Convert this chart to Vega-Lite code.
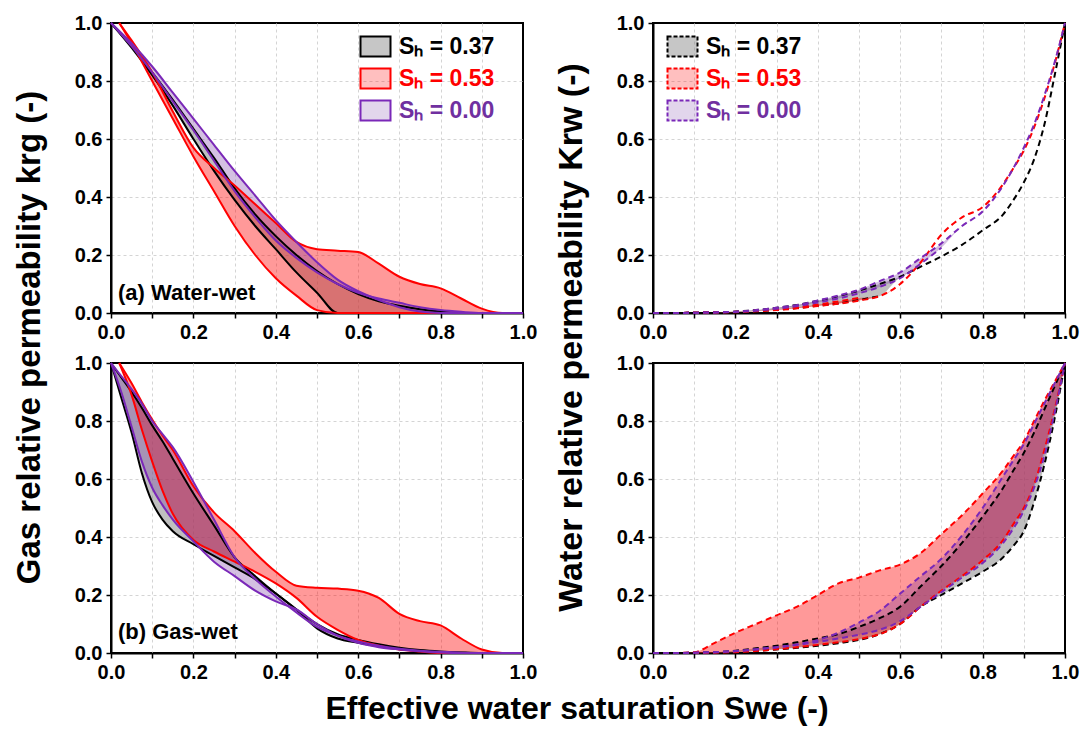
{
  "$schema": "https://vega.github.io/schema/vega-lite/v6.json",
  "background": "white",
  "padding": {"top": 12, "left": 14, "right": 6, "bottom": 4},
  "config": {
    "font": "Liberation Sans",
    "view": {"stroke": "#000000", "strokeWidth": 2},
    "axis": {"labelFontSize": 20, "labelFontWeight": "bold", "labelColor": "#000000", "labelFlush": false, "labelPadding": 4, "domainColor": "#000000", "domainWidth": 2, "tickColor": "#000000", "tickWidth": 1.5, "tickSize": 5, "grid": true, "gridColor": "#d4d4d4", "gridDash": [3, 3], "gridWidth": 1, "title": null},
    "title": {"font": "Liberation Sans", "fontWeight": "bold", "fontSize": 34, "color": "#000000"}
  },
  "datasets": {
    "a": [
      {"sh": "0.37", "x": 0, "y1": 1, "y2": 1}, {"sh": "0.37", "x": 0.05, "y1": 0.92, "y2": 0.915}, {"sh": "0.37", "x": 0.1, "y1": 0.83, "y2": 0.82}, {"sh": "0.37", "x": 0.15, "y1": 0.735, "y2": 0.715}, {"sh": "0.37", "x": 0.2, "y1": 0.635, "y2": 0.6}, {"sh": "0.37", "x": 0.25, "y1": 0.535, "y2": 0.49}, {"sh": "0.37", "x": 0.3, "y1": 0.43, "y2": 0.39}, {"sh": "0.37", "x": 0.35, "y1": 0.34, "y2": 0.3}, {"sh": "0.37", "x": 0.4, "y1": 0.265, "y2": 0.22}, {"sh": "0.37", "x": 0.45, "y1": 0.2, "y2": 0.14}, {"sh": "0.37", "x": 0.5, "y1": 0.145, "y2": 0.07}, {"sh": "0.37", "x": 0.55, "y1": 0.1, "y2": 0}, {"sh": "0.37", "x": 0.6, "y1": 0.065, "y2": 0}, {"sh": "0.37", "x": 0.65, "y1": 0.04, "y2": 0}, {"sh": "0.37", "x": 0.7, "y1": 0.025, "y2": 0}, {"sh": "0.37", "x": 0.75, "y1": 0.013, "y2": 0}, {"sh": "0.37", "x": 0.8, "y1": 0.005, "y2": 0}, {"sh": "0.37", "x": 0.85, "y1": 0, "y2": 0}, {"sh": "0.37", "x": 0.9, "y1": 0, "y2": 0}, {"sh": "0.37", "x": 1, "y1": 0, "y2": 0},
      {"sh": "0.53", "x": 0.02, "y1": 1, "y2": 1}, {"sh": "0.53", "x": 0.05, "y1": 0.94, "y2": 0.93}, {"sh": "0.53", "x": 0.1, "y1": 0.83, "y2": 0.8}, {"sh": "0.53", "x": 0.15, "y1": 0.695, "y2": 0.67}, {"sh": "0.53", "x": 0.2, "y1": 0.57, "y2": 0.54}, {"sh": "0.53", "x": 0.25, "y1": 0.5, "y2": 0.42}, {"sh": "0.53", "x": 0.3, "y1": 0.44, "y2": 0.3}, {"sh": "0.53", "x": 0.35, "y1": 0.375, "y2": 0.2}, {"sh": "0.53", "x": 0.4, "y1": 0.31, "y2": 0.12}, {"sh": "0.53", "x": 0.45, "y1": 0.245, "y2": 0.06}, {"sh": "0.53", "x": 0.5, "y1": 0.22, "y2": 0.01}, {"sh": "0.53", "x": 0.55, "y1": 0.215, "y2": 0}, {"sh": "0.53", "x": 0.6, "y1": 0.21, "y2": 0}, {"sh": "0.53", "x": 0.65, "y1": 0.17, "y2": 0}, {"sh": "0.53", "x": 0.7, "y1": 0.125, "y2": 0}, {"sh": "0.53", "x": 0.75, "y1": 0.1, "y2": 0}, {"sh": "0.53", "x": 0.8, "y1": 0.085, "y2": 0}, {"sh": "0.53", "x": 0.85, "y1": 0.05, "y2": 0}, {"sh": "0.53", "x": 0.9, "y1": 0.015, "y2": 0}, {"sh": "0.53", "x": 0.95, "y1": 0, "y2": 0}, {"sh": "0.53", "x": 1, "y1": 0, "y2": 0},
      {"sh": "0.00", "x": 0, "y1": 1, "y2": 1}, {"sh": "0.00", "x": 0.05, "y1": 0.93, "y2": 0.92}, {"sh": "0.00", "x": 0.1, "y1": 0.85, "y2": 0.83}, {"sh": "0.00", "x": 0.15, "y1": 0.76, "y2": 0.73}, {"sh": "0.00", "x": 0.2, "y1": 0.67, "y2": 0.63}, {"sh": "0.00", "x": 0.25, "y1": 0.58, "y2": 0.525}, {"sh": "0.00", "x": 0.3, "y1": 0.49, "y2": 0.42}, {"sh": "0.00", "x": 0.35, "y1": 0.405, "y2": 0.33}, {"sh": "0.00", "x": 0.4, "y1": 0.32, "y2": 0.25}, {"sh": "0.00", "x": 0.45, "y1": 0.245, "y2": 0.19}, {"sh": "0.00", "x": 0.5, "y1": 0.175, "y2": 0.14}, {"sh": "0.00", "x": 0.55, "y1": 0.115, "y2": 0.1}, {"sh": "0.00", "x": 0.6, "y1": 0.075, "y2": 0.07}, {"sh": "0.00", "x": 0.65, "y1": 0.045, "y2": 0.05}, {"sh": "0.00", "x": 0.7, "y1": 0.02, "y2": 0.035}, {"sh": "0.00", "x": 0.75, "y1": 0.005, "y2": 0.02}, {"sh": "0.00", "x": 0.8, "y1": 0, "y2": 0.01}, {"sh": "0.00", "x": 0.85, "y1": 0, "y2": 0.004}, {"sh": "0.00", "x": 0.9, "y1": 0, "y2": 0}, {"sh": "0.00", "x": 1, "y1": 0, "y2": 0}
    ],
    "b": [
      {"sh": "0.37", "x": 0, "y1": 1, "y2": 1}, {"sh": "0.37", "x": 0.025, "y1": 0.95, "y2": 0.88}, {"sh": "0.37", "x": 0.05, "y1": 0.9, "y2": 0.76}, {"sh": "0.37", "x": 0.075, "y1": 0.845, "y2": 0.62}, {"sh": "0.37", "x": 0.1, "y1": 0.785, "y2": 0.52}, {"sh": "0.37", "x": 0.125, "y1": 0.73, "y2": 0.46}, {"sh": "0.37", "x": 0.15, "y1": 0.67, "y2": 0.42}, {"sh": "0.37", "x": 0.2, "y1": 0.55, "y2": 0.375}, {"sh": "0.37", "x": 0.25, "y1": 0.44, "y2": 0.335}, {"sh": "0.37", "x": 0.3, "y1": 0.33, "y2": 0.295}, {"sh": "0.37", "x": 0.35, "y1": 0.265, "y2": 0.255}, {"sh": "0.37", "x": 0.4, "y1": 0.205, "y2": 0.205}, {"sh": "0.37", "x": 0.45, "y1": 0.15, "y2": 0.15}, {"sh": "0.37", "x": 0.5, "y1": 0.1, "y2": 0.085}, {"sh": "0.37", "x": 0.55, "y1": 0.065, "y2": 0.05}, {"sh": "0.37", "x": 0.6, "y1": 0.045, "y2": 0.035}, {"sh": "0.37", "x": 0.65, "y1": 0.03, "y2": 0.022}, {"sh": "0.37", "x": 0.7, "y1": 0.018, "y2": 0.013}, {"sh": "0.37", "x": 0.75, "y1": 0.01, "y2": 0.007}, {"sh": "0.37", "x": 0.8, "y1": 0.005, "y2": 0.003}, {"sh": "0.37", "x": 0.85, "y1": 0.002, "y2": 0.001}, {"sh": "0.37", "x": 0.9, "y1": 0, "y2": 0}, {"sh": "0.37", "x": 1, "y1": 0, "y2": 0},
      {"sh": "0.53", "x": 0.02, "y1": 1, "y2": 1}, {"sh": "0.53", "x": 0.05, "y1": 0.93, "y2": 0.89}, {"sh": "0.53", "x": 0.075, "y1": 0.865, "y2": 0.77}, {"sh": "0.53", "x": 0.1, "y1": 0.805, "y2": 0.66}, {"sh": "0.53", "x": 0.125, "y1": 0.75, "y2": 0.56}, {"sh": "0.53", "x": 0.15, "y1": 0.7, "y2": 0.48}, {"sh": "0.53", "x": 0.2, "y1": 0.575, "y2": 0.39}, {"sh": "0.53", "x": 0.25, "y1": 0.485, "y2": 0.35}, {"sh": "0.53", "x": 0.3, "y1": 0.42, "y2": 0.315}, {"sh": "0.53", "x": 0.35, "y1": 0.345, "y2": 0.28}, {"sh": "0.53", "x": 0.4, "y1": 0.28, "y2": 0.24}, {"sh": "0.53", "x": 0.45, "y1": 0.232, "y2": 0.19}, {"sh": "0.53", "x": 0.5, "y1": 0.225, "y2": 0.125}, {"sh": "0.53", "x": 0.55, "y1": 0.222, "y2": 0.08}, {"sh": "0.53", "x": 0.6, "y1": 0.215, "y2": 0.045}, {"sh": "0.53", "x": 0.65, "y1": 0.19, "y2": 0.025}, {"sh": "0.53", "x": 0.7, "y1": 0.135, "y2": 0.012}, {"sh": "0.53", "x": 0.75, "y1": 0.11, "y2": 0.005}, {"sh": "0.53", "x": 0.8, "y1": 0.095, "y2": 0}, {"sh": "0.53", "x": 0.85, "y1": 0.05, "y2": 0}, {"sh": "0.53", "x": 0.9, "y1": 0.012, "y2": 0}, {"sh": "0.53", "x": 0.95, "y1": 0, "y2": 0}, {"sh": "0.53", "x": 1, "y1": 0, "y2": 0},
      {"sh": "0.00", "x": 0, "y1": 1, "y2": 1}, {"sh": "0.00", "x": 0.025, "y1": 0.955, "y2": 0.9}, {"sh": "0.00", "x": 0.05, "y1": 0.91, "y2": 0.78}, {"sh": "0.00", "x": 0.075, "y1": 0.86, "y2": 0.66}, {"sh": "0.00", "x": 0.1, "y1": 0.8, "y2": 0.57}, {"sh": "0.00", "x": 0.125, "y1": 0.755, "y2": 0.51}, {"sh": "0.00", "x": 0.15, "y1": 0.71, "y2": 0.46}, {"sh": "0.00", "x": 0.2, "y1": 0.59, "y2": 0.385}, {"sh": "0.00", "x": 0.25, "y1": 0.46, "y2": 0.315}, {"sh": "0.00", "x": 0.3, "y1": 0.33, "y2": 0.265}, {"sh": "0.00", "x": 0.35, "y1": 0.255, "y2": 0.215}, {"sh": "0.00", "x": 0.4, "y1": 0.195, "y2": 0.178}, {"sh": "0.00", "x": 0.45, "y1": 0.14, "y2": 0.15}, {"sh": "0.00", "x": 0.5, "y1": 0.09, "y2": 0.1}, {"sh": "0.00", "x": 0.55, "y1": 0.06, "y2": 0.06}, {"sh": "0.00", "x": 0.6, "y1": 0.04, "y2": 0.035}, {"sh": "0.00", "x": 0.65, "y1": 0.025, "y2": 0.02}, {"sh": "0.00", "x": 0.7, "y1": 0.015, "y2": 0.012}, {"sh": "0.00", "x": 0.75, "y1": 0.008, "y2": 0.006}, {"sh": "0.00", "x": 0.8, "y1": 0.004, "y2": 0.002}, {"sh": "0.00", "x": 0.85, "y1": 0.001, "y2": 0}, {"sh": "0.00", "x": 0.9, "y1": 0, "y2": 0}, {"sh": "0.00", "x": 1, "y1": 0, "y2": 0}
    ],
    "c": [
      {"sh": "0.37", "x": 0, "y1": 0, "y2": 0}, {"sh": "0.37", "x": 0.05, "y1": 0, "y2": 0}, {"sh": "0.37", "x": 0.1, "y1": 0.001, "y2": 0.001}, {"sh": "0.37", "x": 0.15, "y1": 0.002, "y2": 0.002}, {"sh": "0.37", "x": 0.2, "y1": 0.005, "y2": 0.003}, {"sh": "0.37", "x": 0.25, "y1": 0.01, "y2": 0.006}, {"sh": "0.37", "x": 0.3, "y1": 0.018, "y2": 0.011}, {"sh": "0.37", "x": 0.35, "y1": 0.028, "y2": 0.017}, {"sh": "0.37", "x": 0.4, "y1": 0.042, "y2": 0.025}, {"sh": "0.37", "x": 0.45, "y1": 0.058, "y2": 0.033}, {"sh": "0.37", "x": 0.5, "y1": 0.077, "y2": 0.045}, {"sh": "0.37", "x": 0.55, "y1": 0.1, "y2": 0.058}, {"sh": "0.37", "x": 0.6, "y1": 0.125, "y2": null}, {"sh": "0.37", "x": 0.65, "y1": 0.16, "y2": null}, {"sh": "0.37", "x": 0.7, "y1": 0.195, "y2": null}, {"sh": "0.37", "x": 0.75, "y1": 0.235, "y2": null}, {"sh": "0.37", "x": 0.8, "y1": 0.285, "y2": null}, {"sh": "0.37", "x": 0.85, "y1": 0.34, "y2": null}, {"sh": "0.37", "x": 0.875, "y1": 0.39, "y2": null}, {"sh": "0.37", "x": 0.9, "y1": 0.45, "y2": null}, {"sh": "0.37", "x": 0.925, "y1": 0.53, "y2": null}, {"sh": "0.37", "x": 0.95, "y1": 0.65, "y2": null}, {"sh": "0.37", "x": 0.975, "y1": 0.82, "y2": null}, {"sh": "0.37", "x": 1, "y1": 1, "y2": null},
      {"sh": "0.53", "x": 0, "y1": 0, "y2": 0}, {"sh": "0.53", "x": 0.05, "y1": 0, "y2": 0}, {"sh": "0.53", "x": 0.1, "y1": 0.001, "y2": 0.001}, {"sh": "0.53", "x": 0.15, "y1": 0.002, "y2": 0.002}, {"sh": "0.53", "x": 0.2, "y1": 0.003, "y2": 0.004}, {"sh": "0.53", "x": 0.25, "y1": 0.006, "y2": 0.008}, {"sh": "0.53", "x": 0.3, "y1": 0.01, "y2": 0.013}, {"sh": "0.53", "x": 0.35, "y1": 0.016, "y2": 0.02}, {"sh": "0.53", "x": 0.4, "y1": 0.024, "y2": 0.029}, {"sh": "0.53", "x": 0.45, "y1": 0.032, "y2": 0.04}, {"sh": "0.53", "x": 0.5, "y1": 0.043, "y2": 0.052}, {"sh": "0.53", "x": 0.55, "y1": 0.058, "y2": null}, {"sh": "0.53", "x": 0.6, "y1": 0.1, "y2": null}, {"sh": "0.53", "x": 0.65, "y1": 0.175, "y2": null}, {"sh": "0.53", "x": 0.7, "y1": 0.27, "y2": null}, {"sh": "0.53", "x": 0.75, "y1": 0.33, "y2": null}, {"sh": "0.53", "x": 0.8, "y1": 0.365, "y2": null}, {"sh": "0.53", "x": 0.85, "y1": 0.445, "y2": null}, {"sh": "0.53", "x": 0.875, "y1": 0.5, "y2": null}, {"sh": "0.53", "x": 0.9, "y1": 0.56, "y2": null}, {"sh": "0.53", "x": 0.925, "y1": 0.64, "y2": null}, {"sh": "0.53", "x": 0.95, "y1": 0.74, "y2": null}, {"sh": "0.53", "x": 0.975, "y1": 0.86, "y2": null}, {"sh": "0.53", "x": 1, "y1": 1, "y2": null},
      {"sh": "0.00", "x": 0, "y1": 0, "y2": 0}, {"sh": "0.00", "x": 0.05, "y1": 0, "y2": 0}, {"sh": "0.00", "x": 0.1, "y1": 0.001, "y2": 0.001}, {"sh": "0.00", "x": 0.15, "y1": 0.002, "y2": 0.002}, {"sh": "0.00", "x": 0.2, "y1": 0.004, "y2": 0.004}, {"sh": "0.00", "x": 0.25, "y1": 0.01, "y2": 0.008}, {"sh": "0.00", "x": 0.3, "y1": 0.018, "y2": 0.015}, {"sh": "0.00", "x": 0.35, "y1": 0.028, "y2": 0.024}, {"sh": "0.00", "x": 0.4, "y1": 0.043, "y2": 0.036}, {"sh": "0.00", "x": 0.45, "y1": 0.06, "y2": 0.05}, {"sh": "0.00", "x": 0.5, "y1": 0.08, "y2": 0.068}, {"sh": "0.00", "x": 0.55, "y1": 0.11, "y2": 0.09}, {"sh": "0.00", "x": 0.6, "y1": 0.14, "y2": 0.12}, {"sh": "0.00", "x": 0.65, "y1": 0.19, "y2": 0.17}, {"sh": "0.00", "x": 0.7, "y1": 0.24, "y2": 0.225}, {"sh": "0.00", "x": 0.75, "y1": 0.3, "y2": null}, {"sh": "0.00", "x": 0.8, "y1": 0.35, "y2": null}, {"sh": "0.00", "x": 0.85, "y1": 0.44, "y2": null}, {"sh": "0.00", "x": 0.875, "y1": 0.5, "y2": null}, {"sh": "0.00", "x": 0.9, "y1": 0.57, "y2": null}, {"sh": "0.00", "x": 0.925, "y1": 0.65, "y2": null}, {"sh": "0.00", "x": 0.95, "y1": 0.75, "y2": null}, {"sh": "0.00", "x": 0.975, "y1": 0.865, "y2": null}, {"sh": "0.00", "x": 1, "y1": 1, "y2": null}
    ],
    "d": [
      {"sh": "0.37", "x": 0, "y1": 0, "y2": 0}, {"sh": "0.37", "x": 0.05, "y1": 0, "y2": 0}, {"sh": "0.37", "x": 0.1, "y1": 0.001, "y2": 0}, {"sh": "0.37", "x": 0.15, "y1": 0.003, "y2": 0.001}, {"sh": "0.37", "x": 0.2, "y1": 0.008, "y2": 0.003}, {"sh": "0.37", "x": 0.25, "y1": 0.016, "y2": 0.007}, {"sh": "0.37", "x": 0.3, "y1": 0.025, "y2": 0.012}, {"sh": "0.37", "x": 0.35, "y1": 0.037, "y2": 0.018}, {"sh": "0.37", "x": 0.4, "y1": 0.05, "y2": 0.025}, {"sh": "0.37", "x": 0.45, "y1": 0.065, "y2": 0.034}, {"sh": "0.37", "x": 0.5, "y1": 0.09, "y2": 0.045}, {"sh": "0.37", "x": 0.55, "y1": 0.12, "y2": 0.065}, {"sh": "0.37", "x": 0.6, "y1": 0.16, "y2": 0.1}, {"sh": "0.37", "x": 0.65, "y1": 0.23, "y2": 0.16}, {"sh": "0.37", "x": 0.7, "y1": 0.3, "y2": 0.2}, {"sh": "0.37", "x": 0.75, "y1": 0.38, "y2": 0.24}, {"sh": "0.37", "x": 0.8, "y1": 0.47, "y2": 0.28}, {"sh": "0.37", "x": 0.85, "y1": 0.57, "y2": 0.33}, {"sh": "0.37", "x": 0.875, "y1": 0.63, "y2": 0.37}, {"sh": "0.37", "x": 0.9, "y1": 0.69, "y2": 0.42}, {"sh": "0.37", "x": 0.925, "y1": 0.76, "y2": 0.52}, {"sh": "0.37", "x": 0.95, "y1": 0.84, "y2": 0.65}, {"sh": "0.37", "x": 0.975, "y1": 0.92, "y2": 0.81}, {"sh": "0.37", "x": 1, "y1": 1, "y2": 1},
      {"sh": "0.53", "x": 0, "y1": 0, "y2": 0}, {"sh": "0.53", "x": 0.05, "y1": 0, "y2": 0}, {"sh": "0.53", "x": 0.1, "y1": 0.003, "y2": 0}, {"sh": "0.53", "x": 0.15, "y1": 0.035, "y2": 0.001}, {"sh": "0.53", "x": 0.2, "y1": 0.07, "y2": 0.003}, {"sh": "0.53", "x": 0.25, "y1": 0.1, "y2": 0.007}, {"sh": "0.53", "x": 0.3, "y1": 0.13, "y2": 0.013}, {"sh": "0.53", "x": 0.35, "y1": 0.16, "y2": 0.02}, {"sh": "0.53", "x": 0.4, "y1": 0.2, "y2": 0.028}, {"sh": "0.53", "x": 0.45, "y1": 0.24, "y2": 0.037}, {"sh": "0.53", "x": 0.5, "y1": 0.26, "y2": 0.048}, {"sh": "0.53", "x": 0.55, "y1": 0.285, "y2": 0.065}, {"sh": "0.53", "x": 0.6, "y1": 0.305, "y2": 0.1}, {"sh": "0.53", "x": 0.65, "y1": 0.345, "y2": 0.16}, {"sh": "0.53", "x": 0.7, "y1": 0.41, "y2": 0.215}, {"sh": "0.53", "x": 0.75, "y1": 0.475, "y2": 0.265}, {"sh": "0.53", "x": 0.8, "y1": 0.55, "y2": 0.32}, {"sh": "0.53", "x": 0.85, "y1": 0.63, "y2": 0.39}, {"sh": "0.53", "x": 0.875, "y1": 0.68, "y2": 0.445}, {"sh": "0.53", "x": 0.9, "y1": 0.73, "y2": 0.5}, {"sh": "0.53", "x": 0.925, "y1": 0.8, "y2": 0.58}, {"sh": "0.53", "x": 0.95, "y1": 0.87, "y2": 0.7}, {"sh": "0.53", "x": 0.975, "y1": 0.935, "y2": 0.84}, {"sh": "0.53", "x": 1, "y1": 1, "y2": 1},
      {"sh": "0.00", "x": 0, "y1": 0, "y2": 0}, {"sh": "0.00", "x": 0.05, "y1": 0, "y2": 0}, {"sh": "0.00", "x": 0.1, "y1": 0.001, "y2": 0.001}, {"sh": "0.00", "x": 0.15, "y1": 0.003, "y2": 0.003}, {"sh": "0.00", "x": 0.2, "y1": 0.007, "y2": 0.006}, {"sh": "0.00", "x": 0.25, "y1": 0.013, "y2": 0.012}, {"sh": "0.00", "x": 0.3, "y1": 0.02, "y2": 0.02}, {"sh": "0.00", "x": 0.35, "y1": 0.03, "y2": 0.028}, {"sh": "0.00", "x": 0.4, "y1": 0.045, "y2": 0.038}, {"sh": "0.00", "x": 0.45, "y1": 0.07, "y2": 0.05}, {"sh": "0.00", "x": 0.5, "y1": 0.105, "y2": 0.063}, {"sh": "0.00", "x": 0.55, "y1": 0.145, "y2": 0.08}, {"sh": "0.00", "x": 0.6, "y1": 0.205, "y2": 0.11}, {"sh": "0.00", "x": 0.65, "y1": 0.265, "y2": 0.16}, {"sh": "0.00", "x": 0.7, "y1": 0.325, "y2": 0.21}, {"sh": "0.00", "x": 0.75, "y1": 0.405, "y2": 0.26}, {"sh": "0.00", "x": 0.8, "y1": 0.5, "y2": 0.31}, {"sh": "0.00", "x": 0.85, "y1": 0.61, "y2": 0.38}, {"sh": "0.00", "x": 0.875, "y1": 0.665, "y2": 0.43}, {"sh": "0.00", "x": 0.9, "y1": 0.72, "y2": 0.49}, {"sh": "0.00", "x": 0.925, "y1": 0.79, "y2": 0.57}, {"sh": "0.00", "x": 0.95, "y1": 0.86, "y2": 0.68}, {"sh": "0.00", "x": 0.975, "y1": 0.93, "y2": 0.83}, {"sh": "0.00", "x": 1, "y1": 1, "y2": 1}
    ]
  },
  "title": {"text": "Effective water saturation Swe (-)", "orient": "bottom", "anchor": "middle", "fontSize": 32, "offset": 11, "dx": 30},
  "spacing": 17,
  "resolve": {"scale": {"fill": "independent", "fillOpacity": "independent", "stroke": "independent"}},
  "hconcat": [
    {
      "title": {"text": "Gas relative permeability krg (-)", "orient": "left", "anchor": "middle", "offset": 26, "dx": 10, "fontSize": 33},
      "spacing": 9,
      "resolve": {"scale": {"fill": "independent", "fillOpacity": "independent", "stroke": "independent"}},
      "vconcat": [
        {
          "width": 412, "height": 290,
          "data": {"name": "a"},
          "encoding": {"x": {"field": "x", "type": "quantitative", "scale": {"domain": [0, 1], "nice": false}, "axis": {"values": [0, 0.1, 0.2, 0.3, 0.4, 0.5, 0.6, 0.7, 0.8, 0.9, 1], "labelExpr": "round(datum.value*10) % 2 == 0 ? format(datum.value, '.1f') : ''", "gridOpacity": {"condition": {"test": "datum.value <= 0 || datum.value >= 1", "value": 0}, "value": 1}}}},
          "layer": [
            {"mark": {"type": "area", "interpolate": "monotone"},
             "encoding": {
               "y": {"field": "y1", "type": "quantitative", "scale": {"domain": [0, 1], "nice": false}, "axis": {"values": [0, 0.1, 0.2, 0.3, 0.4, 0.5, 0.6, 0.7, 0.8, 0.9, 1], "labelExpr": "round(datum.value*10) % 2 == 0 ? format(datum.value, '.1f') : ''", "gridOpacity": {"condition": {"test": "datum.value <= 0 || datum.value >= 1", "value": 0}, "value": 1}}},
               "y2": {"field": "y2"},
               "fill": {"field": "sh", "type": "nominal", "scale": {"domain": ["0.37", "0.53", "0.00"], "range": ["#808080", "#ff0000", "#7030a0"]}, "legend": {"title": null, "orient": "none", "legendX": 253, "legendY": 12, "symbolType": "M-1.5,-1H1.5V1H-1.5Z", "symbolSize": 400, "symbolStrokeWidth": 2, "labelFontSize": 23, "labelFontWeight": "bold", "labelExpr": "'Sₕ = ' + datum.label", "rowPadding": 3, "labelOffset": 12, "padding": 0, "encode": {"symbols": {"update": {"fillOpacity": {"signal": "datum.value == '0.37' ? 0.45 : datum.value == '0.53' ? 0.25 : 0.2"}, "opacity": {"value": 1}}}, "labels": {"update": {"fill": {"signal": "datum.value == '0.37' ? '#000000' : datum.value == '0.53' ? '#ff0000' : '#7030a0'"}}}}}},
               "fillOpacity": {"field": "sh", "type": "nominal", "scale": {"domain": ["0.37", "0.53", "0.00"], "range": [0.5, 0.3, 0.22]}, "legend": {"title": null, "orient": "none", "legendX": 253, "legendY": 12, "symbolType": "M-1.5,-1H1.5V1H-1.5Z", "symbolSize": 400, "symbolStrokeWidth": 2, "labelFontSize": 23, "labelFontWeight": "bold", "labelExpr": "'Sₕ = ' + datum.label", "rowPadding": 3, "labelOffset": 12, "padding": 0, "encode": {"symbols": {"update": {"fillOpacity": {"signal": "datum.value == '0.37' ? 0.45 : datum.value == '0.53' ? 0.25 : 0.2"}, "opacity": {"value": 1}}}, "labels": {"update": {"fill": {"signal": "datum.value == '0.37' ? '#000000' : datum.value == '0.53' ? '#ff0000' : '#7030a0'"}}}}}}
             }},
            {"transform": [{"fold": ["y1", "y2"], "as": ["curve", "yv"]}],
             "mark": {"type": "line", "interpolate": "monotone", "strokeWidth": 2},
             "encoding": {
               "y": {"field": "yv", "type": "quantitative"},
               "detail": {"field": "curve"},
               "stroke": {"field": "sh", "type": "nominal", "scale": {"domain": ["0.37", "0.53", "0.00"], "range": ["#000000", "#ff0000", "#7a28b8"]}, "legend": {"title": null, "orient": "none", "legendX": 253, "legendY": 12, "symbolType": "M-1.5,-1H1.5V1H-1.5Z", "symbolSize": 400, "symbolStrokeWidth": 2, "labelFontSize": 23, "labelFontWeight": "bold", "labelExpr": "'Sₕ = ' + datum.label", "rowPadding": 3, "labelOffset": 12, "padding": 0, "encode": {"symbols": {"update": {"fillOpacity": {"signal": "datum.value == '0.37' ? 0.45 : datum.value == '0.53' ? 0.25 : 0.2"}, "opacity": {"value": 1}}}, "labels": {"update": {"fill": {"signal": "datum.value == '0.37' ? '#000000' : datum.value == '0.53' ? '#ff0000' : '#7030a0'"}}}}}}
             }},
            {"transform": [{"filter": "datum.sh == '0.37' && datum.x == 0"}],
             "mark": {"type": "text", "align": "left", "baseline": "middle", "fontSize": 22, "fontWeight": "bold", "fill": "#000000", "text": "(a) Water-wet"},
             "encoding": {"x": {"datum": 0.017}, "y": {"datum": 0.07}}}
          ]
        },
        {
          "width": 412, "height": 290,
          "data": {"name": "b"},
          "encoding": {"x": {"field": "x", "type": "quantitative", "scale": {"domain": [0, 1], "nice": false}, "axis": {"values": [0, 0.1, 0.2, 0.3, 0.4, 0.5, 0.6, 0.7, 0.8, 0.9, 1], "labelExpr": "round(datum.value*10) % 2 == 0 ? format(datum.value, '.1f') : ''", "gridOpacity": {"condition": {"test": "datum.value <= 0 || datum.value >= 1", "value": 0}, "value": 1}}}},
          "layer": [
            {"mark": {"type": "area", "interpolate": "monotone"},
             "encoding": {
               "y": {"field": "y1", "type": "quantitative", "scale": {"domain": [0, 1], "nice": false}, "axis": {"values": [0, 0.1, 0.2, 0.3, 0.4, 0.5, 0.6, 0.7, 0.8, 0.9, 1], "labelExpr": "round(datum.value*10) % 2 == 0 ? format(datum.value, '.1f') : ''", "gridOpacity": {"condition": {"test": "datum.value <= 0 || datum.value >= 1", "value": 0}, "value": 1}}},
               "y2": {"field": "y2"},
               "fill": {"field": "sh", "type": "nominal", "scale": {"domain": ["0.37", "0.53", "0.00"], "range": ["#808080", "#ff0000", "#7030a0"]}, "legend": null},
               "fillOpacity": {"field": "sh", "type": "nominal", "scale": {"domain": ["0.37", "0.53", "0.00"], "range": [0.5, 0.3, 0.22]}, "legend": null}
             }},
            {"transform": [{"fold": ["y1", "y2"], "as": ["curve", "yv"]}],
             "mark": {"type": "line", "interpolate": "monotone", "strokeWidth": 2},
             "encoding": {
               "y": {"field": "yv", "type": "quantitative"},
               "detail": {"field": "curve"},
               "stroke": {"field": "sh", "type": "nominal", "scale": {"domain": ["0.37", "0.53", "0.00"], "range": ["#000000", "#ff0000", "#7a28b8"]}, "legend": null}
             }},
            {"transform": [{"filter": "datum.sh == '0.37' && datum.x == 0"}],
             "mark": {"type": "text", "align": "left", "baseline": "middle", "fontSize": 22, "fontWeight": "bold", "fill": "#000000", "text": "(b) Gas-wet"},
             "encoding": {"x": {"datum": 0.017}, "y": {"datum": 0.072}}}
          ]
        }
      ]
    },
    {
      "title": {"text": "Water relative permeability Krw (-)", "orient": "left", "anchor": "middle", "offset": 26, "dx": 10},
      "spacing": 9,
      "resolve": {"scale": {"fill": "independent", "fillOpacity": "independent", "stroke": "independent"}},
      "vconcat": [
        {
          "width": 412, "height": 290,
          "data": {"name": "c"},
          "encoding": {"x": {"field": "x", "type": "quantitative", "scale": {"domain": [0, 1], "nice": false}, "axis": {"values": [0, 0.1, 0.2, 0.3, 0.4, 0.5, 0.6, 0.7, 0.8, 0.9, 1], "labelExpr": "round(datum.value*10) % 2 == 0 ? format(datum.value, '.1f') : ''", "gridOpacity": {"condition": {"test": "datum.value <= 0 || datum.value >= 1", "value": 0}, "value": 1}}}},
          "layer": [
            {"mark": {"type": "area", "interpolate": "monotone"},
             "encoding": {
               "y": {"field": "y1", "type": "quantitative", "scale": {"domain": [0, 1], "nice": false}, "axis": {"values": [0, 0.1, 0.2, 0.3, 0.4, 0.5, 0.6, 0.7, 0.8, 0.9, 1], "labelExpr": "round(datum.value*10) % 2 == 0 ? format(datum.value, '.1f') : ''", "gridOpacity": {"condition": {"test": "datum.value <= 0 || datum.value >= 1", "value": 0}, "value": 1}}},
               "y2": {"field": "y2"},
               "fill": {"field": "sh", "type": "nominal", "scale": {"domain": ["0.37", "0.53", "0.00"], "range": ["#808080", "#ff0000", "#7030a0"]}, "legend": {"title": null, "orient": "none", "legendX": 18, "legendY": 12, "symbolType": "M-1.5,-1H1.5V1H-1.5Z", "symbolSize": 400, "symbolStrokeWidth": 2, "symbolDash": [4, 2], "labelFontSize": 23, "labelFontWeight": "bold", "labelExpr": "'Sₕ = ' + datum.label", "rowPadding": 3, "labelOffset": 12, "padding": 0, "encode": {"symbols": {"update": {"fillOpacity": {"signal": "datum.value == '0.37' ? 0.45 : datum.value == '0.53' ? 0.25 : 0.2"}, "opacity": {"value": 1}}}, "labels": {"update": {"fill": {"signal": "datum.value == '0.37' ? '#000000' : datum.value == '0.53' ? '#ff0000' : '#7030a0'"}}}}}},
               "fillOpacity": {"field": "sh", "type": "nominal", "scale": {"domain": ["0.37", "0.53", "0.00"], "range": [0.5, 0.3, 0.22]}, "legend": {"title": null, "orient": "none", "legendX": 18, "legendY": 12, "symbolType": "M-1.5,-1H1.5V1H-1.5Z", "symbolSize": 400, "symbolStrokeWidth": 2, "symbolDash": [4, 2], "labelFontSize": 23, "labelFontWeight": "bold", "labelExpr": "'Sₕ = ' + datum.label", "rowPadding": 3, "labelOffset": 12, "padding": 0, "encode": {"symbols": {"update": {"fillOpacity": {"signal": "datum.value == '0.37' ? 0.45 : datum.value == '0.53' ? 0.25 : 0.2"}, "opacity": {"value": 1}}}, "labels": {"update": {"fill": {"signal": "datum.value == '0.37' ? '#000000' : datum.value == '0.53' ? '#ff0000' : '#7030a0'"}}}}}}
             }},
            {"transform": [{"fold": ["y1", "y2"], "as": ["curve", "yv"]}],
             "mark": {"type": "line", "interpolate": "monotone", "strokeWidth": 2, "strokeDash": [6, 4]},
             "encoding": {
               "y": {"field": "yv", "type": "quantitative"},
               "detail": {"field": "curve"},
               "stroke": {"field": "sh", "type": "nominal", "scale": {"domain": ["0.37", "0.53", "0.00"], "range": ["#000000", "#ff0000", "#7a28b8"]}, "legend": {"title": null, "orient": "none", "legendX": 18, "legendY": 12, "symbolType": "M-1.5,-1H1.5V1H-1.5Z", "symbolSize": 400, "symbolStrokeWidth": 2, "symbolDash": [4, 2], "labelFontSize": 23, "labelFontWeight": "bold", "labelExpr": "'Sₕ = ' + datum.label", "rowPadding": 3, "labelOffset": 12, "padding": 0, "encode": {"symbols": {"update": {"fillOpacity": {"signal": "datum.value == '0.37' ? 0.45 : datum.value == '0.53' ? 0.25 : 0.2"}, "opacity": {"value": 1}}}, "labels": {"update": {"fill": {"signal": "datum.value == '0.37' ? '#000000' : datum.value == '0.53' ? '#ff0000' : '#7030a0'"}}}}}}
             }}
          ]
        },
        {
          "width": 412, "height": 290,
          "data": {"name": "d"},
          "encoding": {"x": {"field": "x", "type": "quantitative", "scale": {"domain": [0, 1], "nice": false}, "axis": {"values": [0, 0.1, 0.2, 0.3, 0.4, 0.5, 0.6, 0.7, 0.8, 0.9, 1], "labelExpr": "round(datum.value*10) % 2 == 0 ? format(datum.value, '.1f') : ''", "gridOpacity": {"condition": {"test": "datum.value <= 0 || datum.value >= 1", "value": 0}, "value": 1}}}},
          "layer": [
            {"mark": {"type": "area", "interpolate": "monotone"},
             "encoding": {
               "y": {"field": "y1", "type": "quantitative", "scale": {"domain": [0, 1], "nice": false}, "axis": {"values": [0, 0.1, 0.2, 0.3, 0.4, 0.5, 0.6, 0.7, 0.8, 0.9, 1], "labelExpr": "round(datum.value*10) % 2 == 0 ? format(datum.value, '.1f') : ''", "gridOpacity": {"condition": {"test": "datum.value <= 0 || datum.value >= 1", "value": 0}, "value": 1}}},
               "y2": {"field": "y2"},
               "fill": {"field": "sh", "type": "nominal", "scale": {"domain": ["0.37", "0.53", "0.00"], "range": ["#808080", "#ff0000", "#7030a0"]}, "legend": null},
               "fillOpacity": {"field": "sh", "type": "nominal", "scale": {"domain": ["0.37", "0.53", "0.00"], "range": [0.5, 0.3, 0.22]}, "legend": null}
             }},
            {"transform": [{"fold": ["y1", "y2"], "as": ["curve", "yv"]}],
             "mark": {"type": "line", "interpolate": "monotone", "strokeWidth": 2, "strokeDash": [6, 4]},
             "encoding": {
               "y": {"field": "yv", "type": "quantitative"},
               "detail": {"field": "curve"},
               "stroke": {"field": "sh", "type": "nominal", "scale": {"domain": ["0.37", "0.53", "0.00"], "range": ["#000000", "#ff0000", "#7a28b8"]}, "legend": null}
             }}
          ]
        }
      ]
    }
  ]
}
